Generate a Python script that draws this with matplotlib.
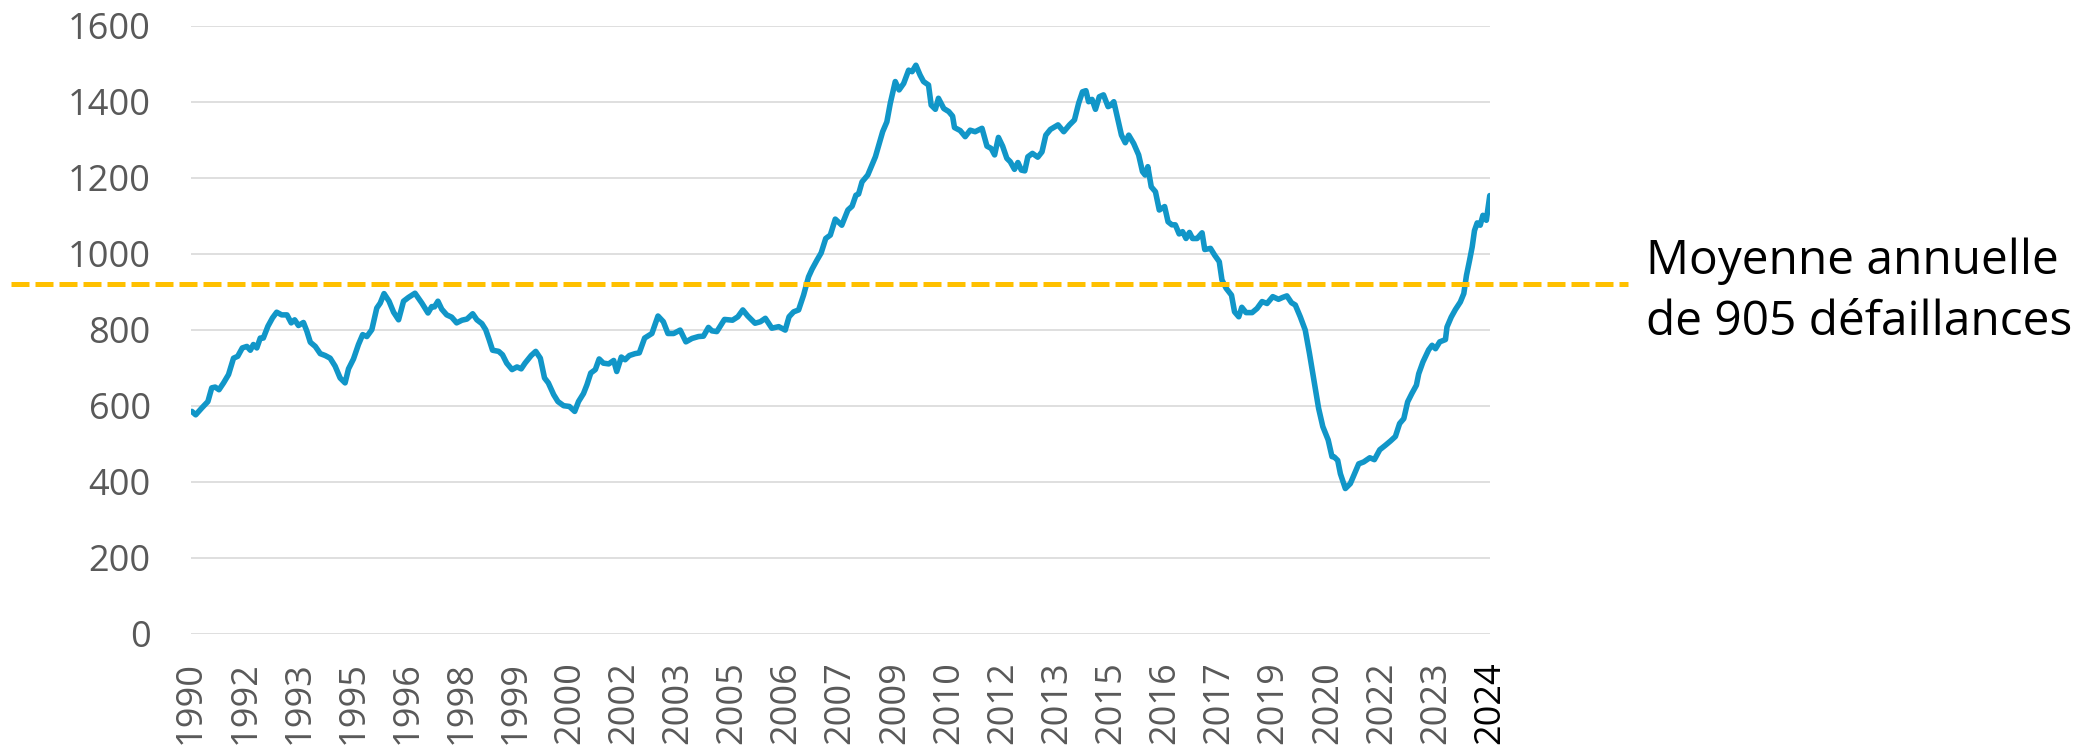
import matplotlib
matplotlib.use("Agg")
import matplotlib.pyplot as plt
import numpy as np

plt.rcParams['font.family'] = ['Open Sans', 'DejaVu Sans']

# Données (année décimale, nombre de défaillances)
annees = [
    1990.02, 1990.12, 1990.28, 1990.44, 1990.54, 1990.63, 1990.73, 1990.85, 1990.98,
    1991.11, 1991.22, 1991.34, 1991.46, 1991.55, 1991.63, 1991.72, 1991.81, 1991.89,
    1992.01, 1992.13, 1992.24, 1992.37, 1992.51, 1992.62, 1992.71, 1992.81, 1992.94,
    1993.03, 1993.12, 1993.25, 1993.38, 1993.51, 1993.64, 1993.77, 1993.90, 1994.03,
    1994.12, 1994.25, 1994.38, 1994.49, 1994.60, 1994.73, 1994.86, 1994.95, 1995.05,
    1995.18, 1995.30, 1995.43, 1995.56, 1995.69, 1995.86,
    1996.04, 1996.20, 1996.30, 1996.37, 1996.46, 1996.56, 1996.69, 1996.82, 1996.95,
    1997.09, 1997.22, 1997.37, 1997.48, 1997.61, 1997.71, 1997.80, 1997.89, 1998.05,
    1998.15, 1998.26, 1998.40, 1998.53, 1998.64, 1998.74, 1998.90, 1999.02, 1999.14,
    1999.25, 1999.35, 1999.49, 1999.60, 1999.75, 1999.90, 2000.04, 2000.14, 2000.27,
    2000.36, 2000.46, 2000.58, 2000.68, 2000.79, 2000.93, 2001.06, 2001.14, 2001.26,
    2001.36, 2001.47, 2001.62, 2001.73, 2001.87,
    2002.06, 2002.22, 2002.36, 2002.48, 2002.63, 2002.80, 2002.95, 2003.11, 2003.28,
    2003.41, 2003.54, 2003.63, 2003.76, 2003.96, 2004.17, 2004.31, 2004.44, 2004.57,
    2004.76, 2004.90, 2005.03, 2005.20, 2005.38, 2005.55, 2005.65, 2005.77, 2005.90,
    2006.03, 2006.16, 2006.25, 2006.38, 2006.49, 2006.61, 2006.73, 2006.86, 2007.03,
    2007.19, 2007.30, 2007.40, 2007.47, 2007.56, 2007.71, 2007.82, 2007.91,
    2008.01, 2008.10, 2008.21, 2008.30, 2008.43, 2008.53, 2008.65, 2008.78, 2008.87,
    2008.97, 2009.08, 2009.17, 2009.30, 2009.37, 2009.48, 2009.56, 2009.70, 2009.83,
    2009.93, 2009.98, 2010.13, 2010.26, 2010.39, 2010.52, 2010.70, 2010.83, 2010.94,
    2011.03, 2011.13, 2011.24, 2011.35, 2011.44, 2011.55, 2011.64, 2011.73, 2011.82,
    2011.90, 2012.02, 2012.16, 2012.27, 2012.37, 2012.49, 2012.69, 2012.84, 2012.99,
    2013.12, 2013.23, 2013.33, 2013.42, 2013.49, 2013.58, 2013.67, 2013.77, 2013.88,
    2014.00, 2014.06,
    2014.15, 2014.23, 2014.35, 2014.45, 2014.54, 2014.67, 2014.80, 2014.90, 2014.97,
    2015.04, 2015.13, 2015.24, 2015.34, 2015.48, 2015.57, 2015.67, 2015.76, 2015.86,
    2015.95, 2016.04, 2016.13, 2016.21, 2016.33, 2016.46, 2016.53, 2016.68, 2016.79,
    2016.91, 2016.98, 2017.09, 2017.23, 2017.31, 2017.42, 2017.50, 2017.61, 2017.77,
    2017.90, 2018.03, 2018.16, 2018.31, 2018.46, 2018.57, 2018.68, 2018.80, 2018.90,
    2019.03, 2019.16, 2019.27, 2019.38, 2019.51, 2019.62, 2019.76, 2019.86, 2019.92,
    2020.01, 2020.08, 2020.21, 2020.34, 2020.45, 2020.56, 2020.69, 2020.85, 2020.97,
    2021.11, 2021.26, 2021.39, 2021.52, 2021.63, 2021.74, 2021.84, 2021.95, 2022.07,
    2022.13, 2022.24, 2022.39, 2022.48, 2022.57, 2022.68, 2022.83, 2022.87, 2022.98,
    2023.09, 2023.22, 2023.31, 2023.38, 2023.46, 2023.53, 2023.59, 2023.66, 2023.74,
    2023.81, 2023.90, 2023.99,
]
defaillances = [
    585, 576, 594, 611, 647, 649, 642, 660, 682,
    725, 730, 752, 756, 746, 761, 752, 778, 778,
    809, 831, 846, 839, 839, 818, 826, 811, 819,
    796, 767, 756, 737, 732, 725, 704, 673, 660,
    697, 723, 761, 787, 782, 800, 857, 870, 895,
    875, 846, 826, 875, 885, 896,
    870, 844, 861, 860, 875, 854, 839, 833, 818,
    825, 828, 842, 826, 816, 800, 774, 746, 743,
    734, 712, 695, 702, 697, 712, 732, 743, 725,
    673, 660, 629, 611, 600, 598, 585, 611, 632,
    655, 686, 695, 723, 712, 710, 719, 690, 728,
    721, 732, 737, 739, 778,
    790, 836, 821, 790, 790, 799, 768, 777, 782,
    783, 806, 797, 795, 827, 825, 834, 852, 836,
    817, 821, 830, 804, 808, 799, 834, 847, 852,
    891, 939, 959, 983, 1002, 1040, 1049, 1091, 1075,
    1115, 1125, 1154, 1157, 1189, 1207, 1233, 1255,
    1290, 1321, 1347, 1396, 1453, 1431, 1448, 1483, 1479,
    1496, 1470, 1453, 1444, 1391, 1380, 1409, 1382, 1374,
    1362, 1332, 1324, 1308, 1325, 1321, 1330, 1283, 1277,
    1260, 1306, 1283, 1251, 1242, 1222, 1240, 1220, 1218,
    1255, 1264, 1254, 1268, 1312, 1327, 1339, 1321, 1339,
    1352, 1396, 1426, 1429, 1400, 1406, 1380, 1413, 1418,
    1387, 1390,
    1400, 1365, 1312, 1292, 1312, 1290, 1260, 1216, 1207,
    1229, 1176, 1163, 1115, 1124, 1084, 1076, 1076, 1052,
    1058, 1040, 1056, 1040, 1040, 1055, 1011, 1014, 996,
    979, 931, 909, 891, 847, 834, 859, 845, 845,
    856, 874, 869, 887, 880, 885, 889, 871, 865,
    834, 799, 738, 672, 593, 545, 510, 466, 465,
    456, 421, 382, 395, 421, 447, 452, 463, 458,
    484, 496, 507, 519, 553, 566, 610, 632, 654,
    684, 715, 747, 759, 750, 768, 774, 807, 833,
    853, 873, 895, 943, 982, 1018, 1061, 1081, 1075,
    1101, 1088, 1153,
]

etiquettes_x = ['1990', '1992', '1993', '1995', '1996', '1998', '1999', '2000',
                '2002', '2003', '2005', '2006', '2007', '2009', '2010', '2012',
                '2013', '2015', '2016', '2017', '2019', '2020', '2022', '2023', '2024']
graduations_y = [0, 200, 400, 600, 800, 1000, 1200, 1400, 1600]

# position de la ligne pointillée telle que dessinée
niveau_moyenne = 920
texte_moyenne = ['Moyenne annuelle', 'de 905 défaillances']

bleu = '#1196C8'
jaune = '#FFC000'
gris_texte = '#595959'

fig = plt.figure(figsize=(21, 7.45), dpi=100)
ax = fig.add_axes([0.091, 0.1494, 0.6186, 0.8161])

for v in graduations_y:
    ax.axhline(v, color='#D9D9D9', lw=1.2, zorder=1)

ax.plot(annees, defaillances, color=bleu, lw=4.0, solid_joinstyle='round',
        solid_capstyle='round', zorder=3)

ax.axhline(niveau_moyenne, xmin=-0.1386, xmax=1.106, color=jaune, lw=3.6,
           linestyle=(0, (3.6, 1.2)), dash_capstyle='butt', clip_on=False, zorder=4)

ax.set_xlim(1990, 2024)
ax.set_ylim(0, 1600)
ax.set_xticks(np.linspace(1990, 2024, len(etiquettes_x)))
ax.set_xticklabels(etiquettes_x, rotation=90, fontsize=26, color=gris_texte)
ax.get_xticklabels()[-1].set_color('black')
ax.set_yticks(graduations_y)
ax.set_yticklabels([str(v) for v in graduations_y], fontsize=26, color=gris_texte)
ax.tick_params(axis='both', length=0)
ax.tick_params(axis='y', pad=29)
ax.tick_params(axis='x', pad=20)
for s in ax.spines.values():
    s.set_visible(False)

fig.text(0.784, 0.632, texte_moyenne[0], fontsize=34.5, color='black', va='baseline')
fig.text(0.784, 0.550, texte_moyenne[1], fontsize=34.5, color='black', va='baseline')

fig.savefig('out.png', dpi=100)
